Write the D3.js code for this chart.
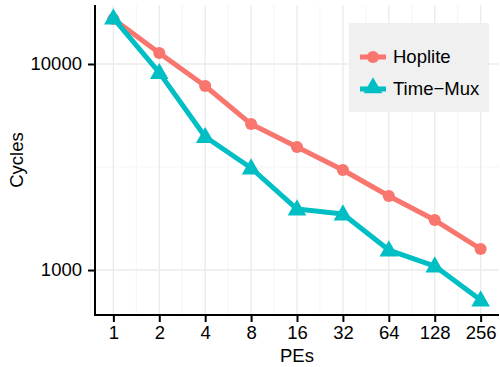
<!DOCTYPE html>
<html>
<head>
<meta charset="utf-8">
<script src="https://cdn.jsdelivr.net/npm/d3@7"></script>
<style>
  body { margin: 0; background: #fff; }
  text { font-family: "Liberation Sans", Arial, sans-serif; }
</style>
</head>
<body>
<div id="chart"></div>
<script>
// values
const pes = ["1", "2", "4", "8", "16", "32", "64", "128", "256"];
const hoplite = [16530, 11300, 7820, 5110, 3955, 3058, 2287, 1748, 1265];
const timeMux = [16700, 9075, 4436, 3127, 1977, 1870, 1250, 1045, 715];
const yTicks = [1000, 10000];
const yMinor = [Math.sqrt(1000 * 10000)];

const series = [
    {name: "Hoplite", values: hoplite, color: "#F8766D", shape: d3.symbolCircle},
    {name: "Time\u2212Mux", values: timeMux, color: "#00BFC4", shape: d3.symbolTriangle}
];

const width = 500, height = 367;
const margin = {top: 5, right: 1, bottom: 52, left: 95};
const innerW = width - margin.left - margin.right;
const innerH = height - margin.top - margin.bottom;
const fontSize = "18.5px";

const svg = d3.select("#chart").append("svg")
    .attr("width", width)
    .attr("height", height);

const g = svg.append("g")
    .attr("transform", `translate(${margin.left},${margin.top})`);

const x = d3.scalePoint()
    .domain(pes)
    .range([0, innerW])
    .padding(0.4);

const y = d3.scaleLog()
    .domain([605, 19330])
    .range([innerH, 0]);

const symSize = s => s.shape === d3.symbolTriangle ? 150 : 115;

// grid
const step = x.step();
const xMinor = pes.slice(0, -1).map(d => x(d) + step / 2);
xMinor.unshift(x(pes[0]) - step / 2);
xMinor.push(x(pes[pes.length - 1]) + step / 2);

g.selectAll(".xminor").data(xMinor).enter().append("line")
    .attr("x1", d => d).attr("x2", d => d)
    .attr("y1", 0).attr("y2", innerH)
    .attr("stroke", "#f2f2f2").attr("stroke-width", 0.8);

g.selectAll(".yminor").data(yMinor).enter().append("line")
    .attr("x1", 0).attr("x2", innerW)
    .attr("y1", d => y(d)).attr("y2", d => y(d))
    .attr("stroke", "#f2f2f2").attr("stroke-width", 0.8);

g.selectAll(".xmajor").data(pes).enter().append("line")
    .attr("x1", d => x(d)).attr("x2", d => x(d))
    .attr("y1", 0).attr("y2", innerH)
    .attr("stroke", "#ebebeb").attr("stroke-width", 1.4);

g.selectAll(".ymajor").data(yTicks).enter().append("line")
    .attr("x1", 0).attr("x2", innerW)
    .attr("y1", d => y(d)).attr("y2", d => y(d))
    .attr("stroke", "#ebebeb").attr("stroke-width", 1.4);

// lines and points
const line = d3.line()
    .x((d, i) => x(pes[i]))
    .y(d => y(d));

series.forEach(s => {
    g.append("path")
        .datum(s.values)
        .attr("fill", "none")
        .attr("stroke", s.color)
        .attr("stroke-width", 5)
        .attr("stroke-linejoin", "round")
        .attr("d", line);

    g.selectAll(null).data(s.values).enter().append("path")
        .attr("transform", (d, i) => `translate(${x(pes[i])},${y(d) + (s.shape === d3.symbolTriangle ? 1 : 0)})`)
        .attr("d", d3.symbol().type(s.shape).size(symSize(s)))
        .attr("fill", s.color);
});

// axes
const xAxis = g.append("g")
    .attr("transform", `translate(0,${innerH})`)
    .call(d3.axisBottom(x).tickSize(7).tickPadding(4).tickSizeOuter(0));

const yAxis = g.append("g")
    .call(d3.axisLeft(y).tickValues(yTicks).tickFormat(d3.format("d")).tickSize(7).tickPadding(6).tickSizeOuter(0));

[xAxis, yAxis].forEach(a => {
    a.select(".domain").attr("stroke", "#000").attr("stroke-width", 2);
    a.selectAll(".tick line").attr("stroke", "#000").attr("stroke-width", 2);
    a.selectAll(".tick text")
        .attr("fill", "#000")
        .style("font-size", fontSize)
        .style("font-family", "'Liberation Sans', Arial, sans-serif");
});
yAxis.select(".domain").attr("d", `M0,0V${innerH}`);
xAxis.select(".domain").attr("d", `M-1,0H${innerW}`);

svg.append("text")
    .attr("x", margin.left + innerW / 2)
    .attr("y", 362)
    .attr("text-anchor", "middle")
    .style("font-size", fontSize)
    .text("PEs");

svg.append("text")
    .attr("transform", `translate(23,${margin.top + innerH / 2}) rotate(-90)`)
    .attr("text-anchor", "middle")
    .style("font-size", fontSize)
    .text("Cycles");

// legend
const legend = svg.append("g").attr("transform", "translate(349,23)");
legend.append("rect")
    .attr("width", 140).attr("height", 89)
    .attr("fill", "#f0f0f0");

series.forEach((s, i) => {
    const ly = 34 + i * 32;
    legend.append("line")
        .attr("x1", 11).attr("x2", 37)
        .attr("y1", ly).attr("y2", ly)
        .attr("stroke", s.color).attr("stroke-width", 5);
    legend.append("path")
        .attr("transform", `translate(24,${ly + (s.shape === d3.symbolTriangle ? -1 : 0)})`)
        .attr("d", d3.symbol().type(s.shape).size(symSize(s)))
        .attr("fill", s.color);
    legend.append("text")
        .attr("x", 44).attr("y", ly + 6)
        .style("font-size", fontSize)
        .text(s.name);
});
</script>
</body>
</html>
